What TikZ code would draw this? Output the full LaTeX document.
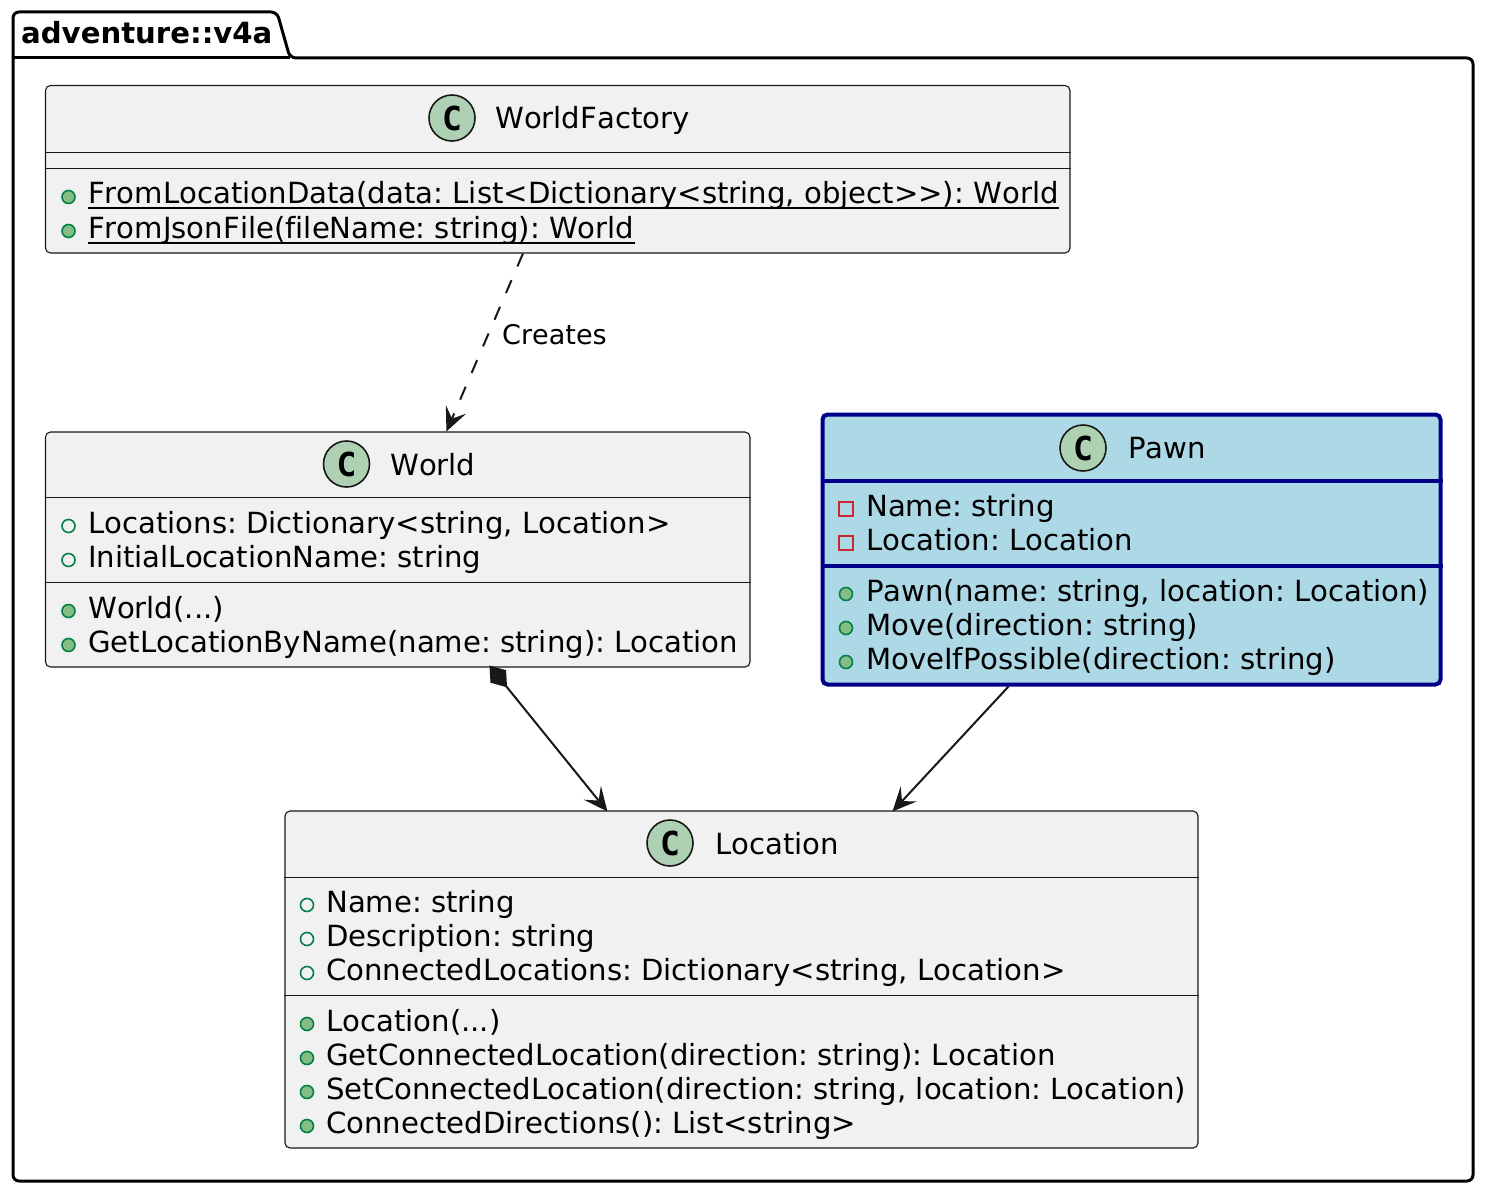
\documentclass[tikz,border=0pt]{standalone}
\usepackage{fontspec}
\setmainfont{DejaVu Sans}[Ligatures={NoCommon},Kerning=Off]
\newfontfamily\spotfont{DejaVu Sans Mono}
\usetikzlibrary{arrows.meta,calc}
\frenchspacing
\definecolor{boxfill}{HTML}{F1F1F1}
\definecolor{linecol}{HTML}{181818}
\definecolor{spotfill}{HTML}{ADD1B2}
\definecolor{pubfill}{HTML}{84BE84}
\definecolor{publine}{HTML}{038048}
\definecolor{privline}{HTML}{C82930}
\definecolor{pawnfill}{HTML}{ADD8E6}
\definecolor{pawnline}{HTML}{00008B}
\tikzset{
  classbox/.style={draw=linecol,fill=boxfill,line width=1.1pt,rounded corners=5pt,inner sep=0pt},
  pawnbox/.style={draw=pawnline,fill=pawnfill,line width=4pt,rounded corners=5pt,inner sep=0pt},
  divider/.style={draw=linecol,line width=1.1pt},
  pawndivider/.style={draw=pawnline,line width=4pt},
  title/.style={inner sep=0pt,anchor=base west,font=\fontsize{29.15}{34}\selectfont},
  member/.style={inner sep=0pt,anchor=base west,font=\fontsize{29.15}{34}\selectfont},
  edgelabel/.style={inner sep=0pt,anchor=base west,font=\fontsize{27.05}{32}\selectfont},
  pkglabel/.style={inner sep=0pt,anchor=base west,font=\fontsize{29.15}{34}\selectfont\bfseries},
  spot/.style={circle,draw=linecol,fill=spotfill,line width=1.6pt,minimum size=46pt,inner sep=0pt,font=\fontsize{33}{33}\spotfont\bfseries},
  pubm/.style={circle,draw=publine,fill=pubfill,line width=1.6pt,minimum size=13pt,inner sep=0pt},
  puba/.style={circle,draw=publine,line width=1.6pt,minimum size=13pt,inner sep=0pt},
  priva/.style={rectangle,draw=privline,line width=1.6pt,minimum size=13.5pt,inner sep=0pt},
  uline/.style={draw=black,line width=2pt},
  conn/.style={draw=linecol,line width=2pt}
}
\newcommand{\mrow}[6]{% name, icon style, icon x, text x, baseline, text
  \node[#2] (#1-i) at (#3,#5-7) {};
  \node[member] (#1) at (#4,#5) {#6};
}
\begin{document}
\begin{tikzpicture}[x=1pt,y=-1pt]
\useasboundingbox (0,0) rectangle (1485,1193);
% package
\draw[black,fill=white,line width=3pt,rounded corners=6pt,line join=round]
  (13,58) -- (13,12) -- (277,12) -- (290,58) -- (1473,58) -- (1473,1181) -- (13,1181) -- cycle;
\draw[black,line width=3pt] (13,58) -- (290,58);
\node[pkglabel] (pkg) at (21,44) {adventure::v4a};

% WorldFactory
\node[classbox,minimum width=1024.5pt,minimum height=167.5pt] (wf) at (557.75,169.25) {};
\draw[divider] (wf.west |- 0,152.5) -- (wf.east |- 0,152.5);
\draw[divider] (wf.west |- 0,168.5) -- (wf.east |- 0,168.5);
\node[spot] (wf-s) at (452,118) {C};
\node[title] (wf-t) at (495,129) {WorldFactory};
\mrow{wf-m1}{pubm}{68.5}{88}{204}{FromLocationData(data: List<Dictionary<string, object>{}>): World}
\mrow{wf-m2}{pubm}{68.5}{88}{238}{FromJsonFile(fileName: string): World}
\draw[uline] ($(wf-m1.base west)+(0,4.5)$) -- ($(wf-m1.base east)+(0,4.5)$);
\draw[uline] ($(wf-m2.base west)+(0,4.5)$) -- ($(wf-m2.base east)+(0,4.5)$);

% World
\node[classbox,minimum width=704.5pt,minimum height=235pt] (world) at (397.75,549.5) {};
\draw[divider] (world.west |- 0,497.5) -- (world.east |- 0,497.5);
\draw[divider] (world.west |- 0,582.5) -- (world.east |- 0,582.5);
\node[spot] (world-s) at (346.5,464) {C};
\node[title] (world-t) at (390,475) {World};
\mrow{world-a1}{puba}{68.5}{88}{533}{Locations: Dictionary<string, Location>}
\mrow{world-a2}{puba}{68.5}{88}{567}{InitialLocationName: string}
\mrow{world-m1}{pubm}{68.5}{88}{618}{World(...)}
\mrow{world-m2}{pubm}{68.5}{88}{652}{GetLocationByName(name: string): Location}

% Pawn
\node[pawnbox,minimum width=618pt,minimum height=270pt] (pawn) at (1131.5,549.5) {};
\draw[pawndivider] (pawn.west |- 0,481) -- (pawn.east |- 0,481);
\draw[pawndivider] (pawn.west |- 0,565.5) -- (pawn.east |- 0,565.5);
\node[spot] (pawn-s) at (1083,448) {C};
\node[title] (pawn-t) at (1128,458) {Pawn};
\mrow{pawn-a1}{priva}{846}{866}{516}{Name: string}
\mrow{pawn-a2}{priva}{846}{866}{550}{Location: Location}
\mrow{pawn-m1}{pubm}{846}{866}{601}{Pawn(name: string, location: Location)}
\mrow{pawn-m2}{pubm}{846}{866}{635}{Move(direction: string)}
\mrow{pawn-m3}{pubm}{846}{866}{669}{MoveIfPossible(direction: string)}

% Location
\node[classbox,minimum width=913pt,minimum height=337pt] (loc) at (741.5,979.5) {};
\draw[divider] (loc.west |- 0,877.5) -- (loc.east |- 0,877.5);
\draw[divider] (loc.west |- 0,995.5) -- (loc.east |- 0,995.5);
\node[spot] (loc-s) at (670,843) {C};
\node[title] (loc-t) at (715,854) {Location};
\mrow{loc-a1}{puba}{307}{326}{912}{Name: string}
\mrow{loc-a2}{puba}{307}{326}{946}{Description: string}
\mrow{loc-a3}{puba}{307}{326}{980}{ConnectedLocations: Dictionary<string, Location>}
\mrow{loc-m1}{pubm}{307}{326}{1031}{Location(...)}
\mrow{loc-m2}{pubm}{307}{326}{1065}{GetConnectedLocation(direction: string): Location}
\mrow{loc-m3}{pubm}{307}{326}{1099}{SetConnectedLocation(direction: string, location: Location)}
\mrow{loc-m4}{pubm}{307}{326}{1133}{ConnectedDirections(): List<string>}

% connectors
\tikzset{headtip/.tip={Stealth[length=24pt,width=22pt,inset=10pt,line width=1.6pt]}}
\coordinate (wf-out) at ($(wf.south west)+(478,0)$);
\coordinate (world-in) at ($(world.north west)+(401.5,0)$);
\coordinate (world-out) at ($(world.south west)+(444.5,-2)$);
\coordinate (loc-in1) at ($(loc.north west)+(323,1)$);
\coordinate (loc-in2) at ($(loc.north west)+(608,1)$);
\coordinate (pawn-out) at ($(pawn.south west)+(188,0)$);
\draw[conn,dash pattern=on 14pt off 15pt,arrows={-headtip}] (wf-out) -- (world-in);
\node[edgelabel] (creates) at (502,344) {Creates};
\draw[conn,arrows={Diamond[length=28pt,width=20pt]-headtip}] (world-out) -- (loc-in1);
\draw[conn,arrows={-headtip}] (pawn-out) -- (loc-in2);
\end{tikzpicture}
\end{document}
